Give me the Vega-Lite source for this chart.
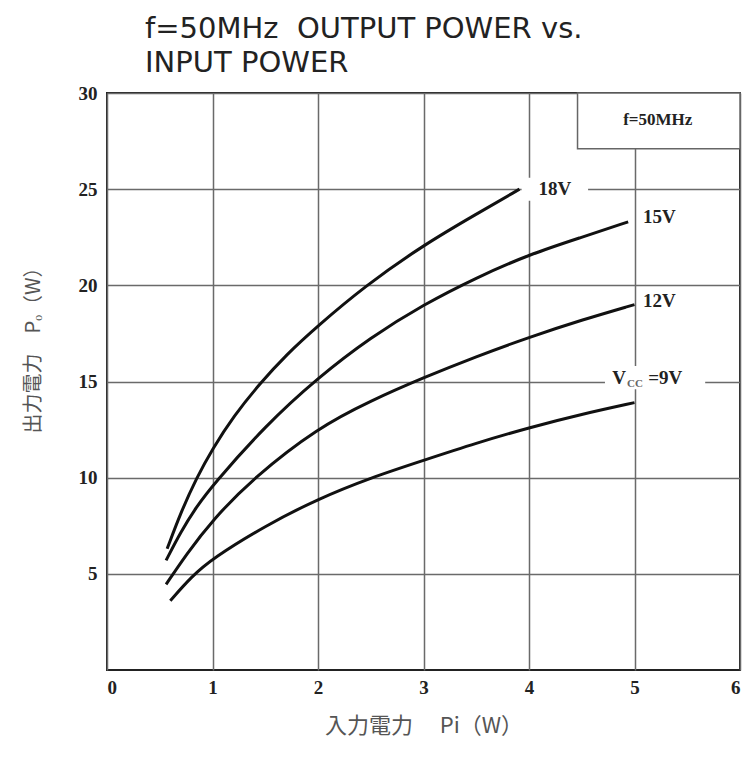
{
  "$schema": "https://vega.github.io/schema/vega-lite/v6.json",
  "width": 633,
  "height": 577,
  "autosize": {"type": "none"},
  "padding": {"left": 107, "top": 93, "right": 13, "bottom": 97},
  "background": "white",
  "title": {
    "text": ["f=50MHz\u00a0\u00a0OUTPUT POWER vs.", "INPUT POWER"],
    "anchor": "start",
    "frame": "group",
    "dx": 38,
    "offset": 6,
    "font": "DejaVu Sans",
    "fontSize": 29,
    "fontWeight": "normal",
    "color": "#222",
    "lineHeight": 34
  },
  "config": {
    "view": {"stroke": "#222", "strokeWidth": 2},
    "axis": {
      "grid": true,
      "gridColor": "#6a6a6a",
      "gridWidth": 1.5,
      "ticks": false,
      "domain": false,
      "labelFont": "Liberation Serif",
      "labelFontSize": 19,
      "labelFontWeight": "bold",
      "labelColor": "#222",
      "titleFont": "Noto Sans CJK JP",
      "titleFontWeight": "normal",
      "titleColor": "#555"
    }
  },
  "datasets": {
    "curves": [
      {"series": "18V", "pi": 0.57, "po": 6.3},
      {"series": "18V", "pi": 0.7, "po": 8.2},
      {"series": "18V", "pi": 0.85, "po": 10.0},
      {"series": "18V", "pi": 1.0, "po": 11.5},
      {"series": "18V", "pi": 1.2, "po": 13.2},
      {"series": "18V", "pi": 1.45, "po": 14.9},
      {"series": "18V", "pi": 1.7, "po": 16.4},
      {"series": "18V", "pi": 2.0, "po": 17.9},
      {"series": "18V", "pi": 2.43, "po": 19.9},
      {"series": "18V", "pi": 3.0, "po": 22.1},
      {"series": "18V", "pi": 3.5, "po": 23.7},
      {"series": "18V", "pi": 3.91, "po": 25.0},
      {"series": "15V", "pi": 0.56, "po": 5.7},
      {"series": "15V", "pi": 0.7, "po": 7.2},
      {"series": "15V", "pi": 0.85, "po": 8.5},
      {"series": "15V", "pi": 1.0, "po": 9.6},
      {"series": "15V", "pi": 1.5, "po": 12.7},
      {"series": "15V", "pi": 2.0, "po": 15.2},
      {"series": "15V", "pi": 2.5, "po": 17.3},
      {"series": "15V", "pi": 3.0, "po": 19.0},
      {"series": "15V", "pi": 3.5, "po": 20.4},
      {"series": "15V", "pi": 4.0, "po": 21.6},
      {"series": "15V", "pi": 4.5, "po": 22.5},
      {"series": "15V", "pi": 4.94, "po": 23.3},
      {"series": "12V", "pi": 0.56, "po": 4.45},
      {"series": "12V", "pi": 0.75, "po": 6.0},
      {"series": "12V", "pi": 1.0, "po": 7.8},
      {"series": "12V", "pi": 1.39, "po": 10.0},
      {"series": "12V", "pi": 2.0, "po": 12.6},
      {"series": "12V", "pi": 2.5, "po": 14.0},
      {"series": "12V", "pi": 3.0, "po": 15.2},
      {"series": "12V", "pi": 3.5, "po": 16.3},
      {"series": "12V", "pi": 4.0, "po": 17.3},
      {"series": "12V", "pi": 4.5, "po": 18.2},
      {"series": "12V", "pi": 5.0, "po": 19.0},
      {"series": "9V", "pi": 0.6, "po": 3.6},
      {"series": "9V", "pi": 0.8, "po": 4.85},
      {"series": "9V", "pi": 1.0, "po": 5.8},
      {"series": "9V", "pi": 1.5, "po": 7.5},
      {"series": "9V", "pi": 2.0, "po": 8.9},
      {"series": "9V", "pi": 2.5, "po": 10.0},
      {"series": "9V", "pi": 3.0, "po": 10.9},
      {"series": "9V", "pi": 3.5, "po": 11.8},
      {"series": "9V", "pi": 4.0, "po": 12.6},
      {"series": "9V", "pi": 4.5, "po": 13.3},
      {"series": "9V", "pi": 5.0, "po": 13.9}
    ],
    "labels": [
      {"label": "18V", "pi": 4.09, "po": 25.0},
      {"label": "15V", "pi": 5.08, "po": 23.55},
      {"label": "12V", "pi": 5.08, "po": 19.2},
      {"label": "V", "pi": 4.79, "po": 15.2},
      {"label": "=9V", "pi": 5.13, "po": 15.2}
    ],
    "subs": [
      {"label": "CC", "pi": 4.93, "po": 14.85}
    ],
    "masks": [
      {"x1": 3.93, "x2": 4.56, "y1": 24.4, "y2": 25.6},
      {"x1": 4.72, "x2": 5.67, "y1": 14.6, "y2": 15.8}
    ],
    "box": [
      {"x1": 4.46, "x2": 6.0, "y1": 27.1, "y2": 30.0, "label": "f=50MHz", "cx": 5.22, "cy": 28.6}
    ]
  },
  "layer": [
    {
      "data": {"name": "masks"},
      "mark": {"type": "rect", "fill": "white", "stroke": null},
      "encoding": {
        "x": {"field": "x1", "type": "quantitative", "scale": {"domain": [0, 6]},
              "axis": {"values": [0, 1, 2, 3, 4, 5, 6], "format": "d", "labelPadding": 8,
                       "title": "入力電力\u3000\u00a0Pi（W）", "titleFontSize": 22, "titlePadding": 18}},
        "x2": {"field": "x2"},
        "y": {"field": "y1", "type": "quantitative", "scale": {"domain": [0, 30]},
              "axis": {"values": [5, 10, 15, 20, 25, 30], "format": "d", "labelPadding": 10,
                       "title": "出力電力\u3000Pₒ（W）", "titleFontSize": 20, "titleX": -64, "titleY": 252}},
        "y2": {"field": "y2"}
      }
    },
    {
      "data": {"name": "box"},
      "mark": {"type": "rect", "fill": "white", "stroke": "#666", "strokeWidth": 1.5},
      "encoding": {
        "x": {"field": "x1", "type": "quantitative"},
        "x2": {"field": "x2"},
        "y": {"field": "y1", "type": "quantitative"},
        "y2": {"field": "y2"}
      }
    },
    {
      "data": {"name": "box"},
      "mark": {"type": "text", "font": "Liberation Serif", "fontSize": 17, "fontWeight": "bold", "color": "#222", "align": "center", "baseline": "middle"},
      "encoding": {
        "x": {"field": "cx", "type": "quantitative"},
        "y": {"field": "cy", "type": "quantitative"},
        "text": {"field": "label"}
      }
    },
    {
      "data": {"name": "curves"},
      "mark": {"type": "line", "interpolate": "basis", "strokeWidth": 3, "color": "#111"},
      "encoding": {
        "x": {"field": "pi", "type": "quantitative"},
        "y": {"field": "po", "type": "quantitative"},
        "detail": {"field": "series"}
      }
    },
    {
      "data": {"name": "labels"},
      "mark": {"type": "text", "font": "Liberation Serif", "fontSize": 19, "fontWeight": "bold", "color": "#222", "align": "left", "baseline": "middle"},
      "encoding": {
        "x": {"field": "pi", "type": "quantitative"},
        "y": {"field": "po", "type": "quantitative"},
        "text": {"field": "label"}
      }
    },
    {
      "data": {"name": "subs"},
      "mark": {"type": "text", "font": "Liberation Serif", "fontSize": 11, "fontWeight": "bold", "color": "#666", "align": "left", "baseline": "middle"},
      "encoding": {
        "x": {"field": "pi", "type": "quantitative"},
        "y": {"field": "po", "type": "quantitative"},
        "text": {"field": "label"}
      }
    }
  ]
}
